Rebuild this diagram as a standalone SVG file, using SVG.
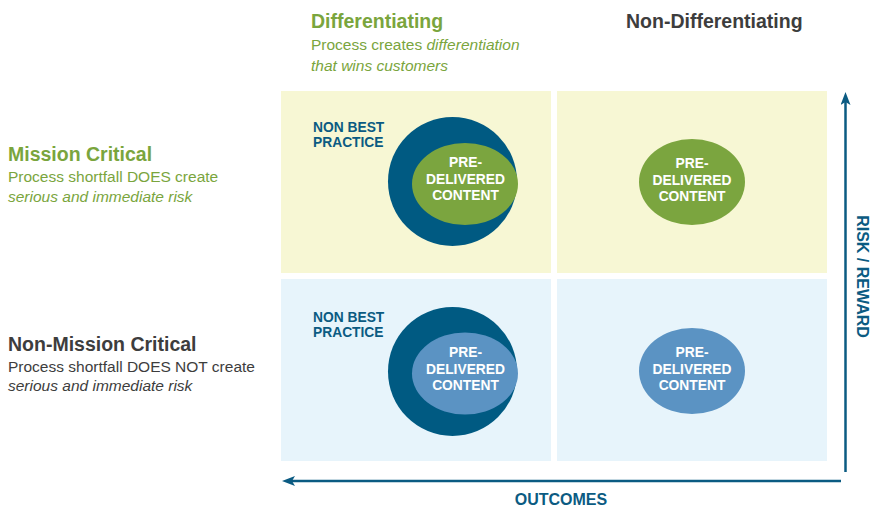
<svg xmlns="http://www.w3.org/2000/svg" width="872" height="510" viewBox="0 0 872 510">
  <style>
    text { font-family: "Liberation Sans", Arial, sans-serif; }
    .hdr { font-size: 19.5px; font-weight: bold; }
    .sub { font-size: 15.5px; }
    .it { font-style: italic; }
    .green { fill: #7aa53d; }
    .gray { fill: #3d3d3d; }
    .blue { fill: #0b5b82; }
    .nbp { font-size: 13.8px; font-weight: bold; fill: #0b5b82; }
    .pdc { font-size: 13.8px; font-weight: bold; fill: #ffffff; text-anchor: middle; }
    .axis { font-size: 16px; font-weight: bold; fill: #0b5b82; text-anchor: middle; }
    .yellow { fill: #f7f7d4; }
    .lblue { fill: #e7f4fb; }
    .outer { fill: #005a82; }
    .gfill { fill: #7ba53f; }
    .bfill { fill: #5b93c3; }
    .arrow { stroke: #0b5b82; stroke-width: 2.5; fill: none; marker-end: url(#head); }
  </style>
  <defs>
    <marker id="head" viewBox="0 0 13 10" markerUnits="userSpaceOnUse" markerWidth="13" markerHeight="10" refX="3" refY="5" orient="auto">
      <path d="M0,0 L13,5 L0,10 L3,5 Z" fill="#0b5b82"/>
    </marker>
  </defs>

  <g id="col-headers">
    <text class="hdr green" x="311" y="28">Differentiating</text>
    <text class="sub green" x="311" y="50">Process creates <tspan class="it">differentiation</tspan></text>
    <text class="sub green it" x="311" y="71">that wins customers</text>
    <text class="hdr gray" x="626" y="28">Non-Differentiating</text>
  </g>

  <g id="row-headers">
    <text class="hdr green" x="8" y="161">Mission Critical</text>
    <text class="sub green" x="8" y="182">Process shortfall DOES create</text>
    <text class="sub green it" x="8" y="202">serious and immediate risk</text>
    <text class="hdr gray" x="8" y="351">Non-Mission Critical</text>
    <text class="sub gray" x="8" y="372">Process shortfall DOES NOT create</text>
    <text class="sub gray it" x="8" y="391">serious and immediate risk</text>
  </g>

  <g id="q-top-left">
    <rect class="yellow" x="281" y="91" width="270" height="182"/>
    <text class="nbp" x="313" y="132">NON BEST</text>
    <text class="nbp" x="313" y="147">PRACTICE</text>
    <circle class="outer" cx="452.5" cy="181.5" r="64.5"/>
    <ellipse class="gfill" cx="465" cy="184" rx="53" ry="41"/>
    <text class="pdc" x="465.5" y="167">PRE-</text>
    <text class="pdc" x="465.5" y="184">DELIVERED</text>
    <text class="pdc" x="465.5" y="200">CONTENT</text>
  </g>

  <g id="q-top-right">
    <rect class="yellow" x="557" y="91" width="270" height="182"/>
    <ellipse class="gfill" cx="692" cy="182" rx="53" ry="43"/>
    <text class="pdc" x="692" y="168">PRE-</text>
    <text class="pdc" x="692" y="185">DELIVERED</text>
    <text class="pdc" x="692" y="201">CONTENT</text>
  </g>

  <g id="q-bottom-left">
    <rect class="lblue" x="281" y="279" width="270" height="182"/>
    <text class="nbp" x="313" y="322">NON BEST</text>
    <text class="nbp" x="313" y="337">PRACTICE</text>
    <circle class="outer" cx="452.5" cy="371.5" r="64.5"/>
    <ellipse class="bfill" cx="465" cy="373.5" rx="53" ry="41"/>
    <text class="pdc" x="465.5" y="357">PRE-</text>
    <text class="pdc" x="465.5" y="374">DELIVERED</text>
    <text class="pdc" x="465.5" y="390">CONTENT</text>
  </g>

  <g id="q-bottom-right">
    <rect class="lblue" x="557" y="279" width="270" height="182"/>
    <ellipse class="bfill" cx="692" cy="371" rx="53" ry="43"/>
    <text class="pdc" x="692" y="357">PRE-</text>
    <text class="pdc" x="692" y="374">DELIVERED</text>
    <text class="pdc" x="692" y="390">CONTENT</text>
  </g>

  <g id="connectors">
    <path class="arrow" d="M845.5,472 L845.5,102"/>
    <path class="arrow" d="M841,481 L292,481"/>
  </g>

  <g id="axis-labels">
    <text class="axis" x="561" y="505">OUTCOMES</text>
    <text class="axis" transform="translate(857,276.5) rotate(90)" x="0" y="0">RISK / REWARD</text>
  </g>
</svg>
